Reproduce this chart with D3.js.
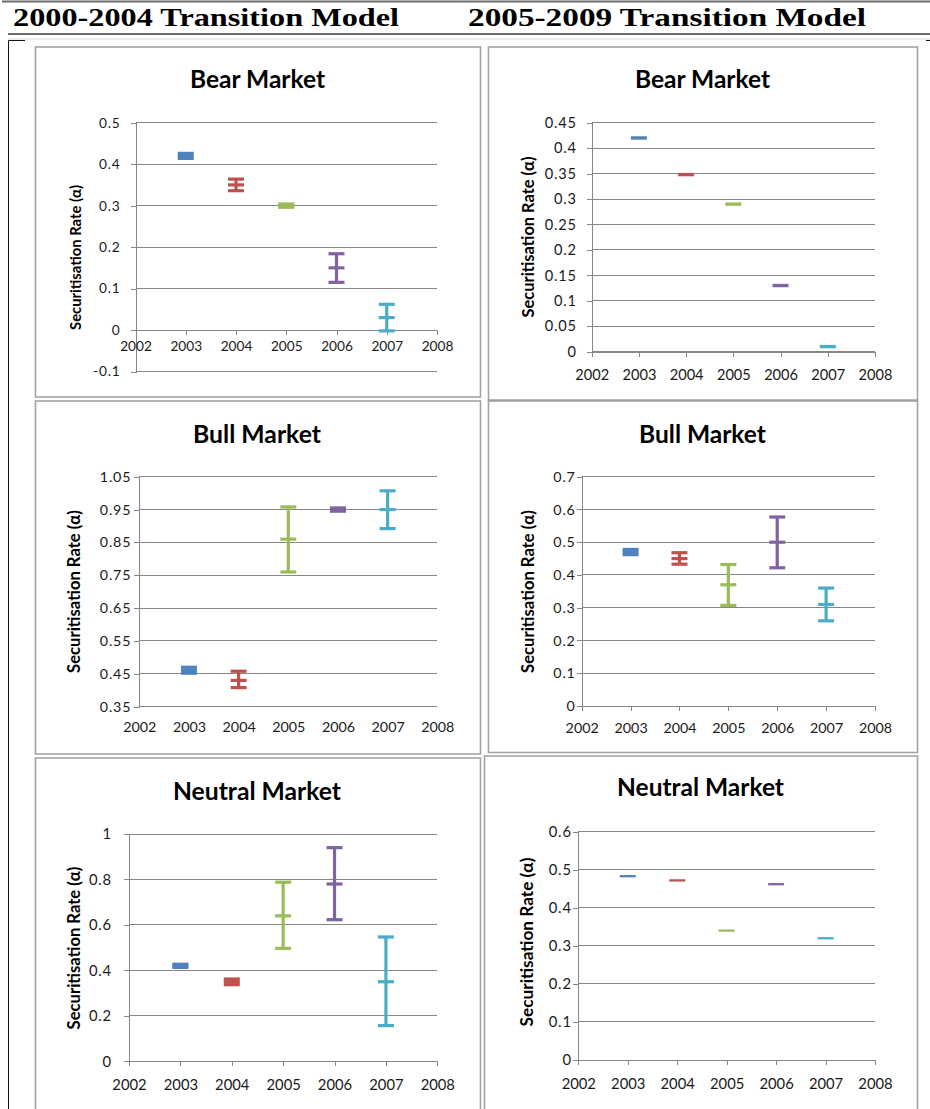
<!DOCTYPE html>
<html>
<head>
<meta charset="utf-8">
<script src="https://cdn.jsdelivr.net/npm/d3@7"></script>
<style>
  body { margin: 0; background: #fff; }
  svg { display: block; }
</style>
</head>
<body>
<svg id="fig" width="930" height="1109"></svg>
<script>
// ---- data -------------------------------------------------------------
const years = [2003, 2004, 2005, 2006, 2007];
const yearTicks = [2002, 2003, 2004, 2005, 2006, 2007, 2008];
const seriesColors = ["#4F81BD", "#C0504D", "#9BBB59", "#8064A2", "#4BACC6"];
const columnHeaders = ["2000-2004 Transition Model", "2005-2009 Transition Model"];
const yAxisTitle = "Securitisation Rate (\u03B1)";

// 2000-2004 transition model: mean securitisation rate with its range
const bearEarlyMean = [0.42, 0.35, 0.30, 0.15, 0.03];
const bearEarlyLow  = [0.414, 0.336, 0.296, 0.115, -0.002];
const bearEarlyHigh = [0.426, 0.364, 0.304, 0.184, 0.062];

const bullEarlyMean = [0.46, 0.43, 0.86, 0.95, 0.95];
const bullEarlyLow  = [0.452, 0.408, 0.760, 0.945, 0.892];
const bullEarlyHigh = [0.470, 0.458, 0.958, 0.955, 1.007];

const neutralEarlyMean = [0.42, 0.35, 0.64, 0.78, 0.35];
const neutralEarlyLow  = [0.413, 0.337, 0.497, 0.623, 0.157];
const neutralEarlyHigh = [0.427, 0.362, 0.788, 0.940, 0.547];

// 2005-2009 transition model
const bearLateMean = [0.42, 0.348, 0.29, 0.13, 0.01];

const bullLateMean = [0.47, 0.45, 0.37, 0.50, 0.31];
const bullLateLow  = [0.462, 0.433, 0.307, 0.422, 0.260];
const bullLateHigh = [0.478, 0.468, 0.432, 0.577, 0.360];

const neutralLateMean = [0.483, 0.472, 0.34, 0.462, 0.32];

// value-axis tick labels
const bearEarlyTicks    = [-0.1, 0, 0.1, 0.2, 0.3, 0.4, 0.5];
const bullEarlyTicks    = [0.35, 0.45, 0.55, 0.65, 0.75, 0.85, 0.95, 1.05];
const neutralEarlyTicks = [0, 0.2, 0.4, 0.6, 0.8, 1];
const bearLateTicks     = [0, 0.05, 0.1, 0.15, 0.2, 0.25, 0.3, 0.35, 0.4, 0.45];
const bullLateTicks     = [0, 0.1, 0.2, 0.3, 0.4, 0.5, 0.6, 0.7];
const neutralLateTicks  = [0, 0.1, 0.2, 0.3, 0.4, 0.5, 0.6];

// ---- layout -----------------------------------------------------------
// titleLen / yTitleLen: the width each title is fitted to
const panels = [
  { title: "Bear Market", mean: bearEarlyMean, low: bearEarlyLow, high: bearEarlyHigh, ticks: bearEarlyTicks,
    box: [35.5, 47, 445, 350], plot: [135.5, 437, 122.7, 371.5], titleX: 257.5, titleY: 87.5, titleLen: 135,
    yTitleX: 75, yTitleY: 257.5, yTitleLen: 145, tickSize: 13.7, tickGap: 15, xLabelY: 351.5, sw: 3.2 },
  { title: "Bear Market", mean: bearLateMean, ticks: bearLateTicks,
    box: [488.5, 47, 429, 353.5], plot: [591.7, 875, 122.7, 351.7], titleX: 702.5, titleY: 87.5, titleLen: 135,
    yTitleX: 527.3, yTitleY: 237, yTitleLen: 161, tickSize: 14.6, tickGap: 15, xLabelY: 380, sw: 3.4, bottomDark: true },
  { title: "Bull Market", mean: bullEarlyMean, low: bullEarlyLow, high: bullEarlyHigh, ticks: bullEarlyTicks,
    box: [35.5, 401, 445, 353], plot: [139.3, 437.3, 476.7, 706.7], titleX: 257, titleY: 442.5, titleLen: 128,
    yTitleX: 74.3, yTitleY: 591.5, yTitleLen: 163, tickSize: 14.3, tickGap: 8, xLabelY: 731.7, sw: 3.2 },
  { title: "Bull Market", mean: bullLateMean, low: bullLateLow, high: bullLateHigh, ticks: bullLateTicks,
    box: [488.5, 401, 429, 351.5], plot: [581.7, 875, 476.7, 706], titleX: 702.5, titleY: 442.5, titleLen: 127,
    yTitleX: 528.3, yTitleY: 591.5, yTitleLen: 163, tickSize: 14.3, tickGap: 6, xLabelY: 733, sw: 3.2 },
  { title: "Neutral Market", mean: neutralEarlyMean, low: neutralEarlyLow, high: neutralEarlyHigh, ticks: neutralEarlyTicks,
    box: [35.5, 758, 445, 360], plot: [129, 437.3, 834, 1061.3], titleX: 257, titleY: 799.5, titleLen: 168,
    yTitleX: 74.3, yTitleY: 948, yTitleLen: 163, tickSize: 14.8, tickGap: 17, xLabelY: 1090, sw: 3.2 },
  { title: "Neutral Market", mean: neutralLateMean, ticks: neutralLateTicks,
    box: [484.5, 756, 433, 360], plot: [578.3, 875, 831.7, 1060], titleX: 700.5, titleY: 795.5, titleLen: 167,
    yTitleX: 526.7, yTitleY: 942, yTitleLen: 169, tickSize: 14.8, tickGap: 6.5, xLabelY: 1089, sw: 2.3 }
];

const gridColor = "#868686";
const textColor = "#1a1a1a";
const sansFont = "Lato, 'Open Sans', sans-serif";
const serifFont = "'Liberation Serif', serif";
const capWidth = 16;

const svg = d3.select("#fig");

// scale a text element's font size so that it spans the given width
function fitWidth(sel, width) {
  const probe = 20;
  sel.attr("font-size", probe);
  const w = sel.node().getComputedTextLength();
  sel.attr("font-size", probe * width / w);
  return sel;
}

// ---- page furniture: header rules and column headings ------------------
svg.append("line").attr("x1", 2).attr("x2", 930).attr("y1", 1.5).attr("y2", 1.5)
  .attr("stroke", "#6a6a6a").attr("stroke-width", 2);
svg.append("line").attr("x1", 8).attr("x2", 930).attr("y1", 34).attr("y2", 34)
  .attr("stroke", "#6a6a6a").attr("stroke-width", 2);
svg.append("line").attr("x1", 8).attr("x2", 930).attr("y1", 39).attr("y2", 39)
  .attr("stroke", "#d9d9d9").attr("stroke-width", 1);
svg.append("path").attr("d", "M8.5,1109V40.5H25").attr("fill", "none")
  .attr("stroke", "#111").attr("stroke-width", 1);
svg.append("path").attr("d", "M926,40.5H930").attr("fill", "none")
  .attr("stroke", "#111").attr("stroke-width", 1);

const headerPos = [[13, 386], [468, 398]];
svg.selectAll("text.colhead").data(columnHeaders).join("text")
  .attr("class", "colhead")
  .attr("x", (d, i) => headerPos[i][0])
  .attr("y", 25.5)
  .attr("textLength", (d, i) => headerPos[i][1])
  .attr("lengthAdjust", "spacingAndGlyphs")
  .attr("font-family", serifFont)
  .attr("font-weight", "bold")
  .attr("font-size", 24.5)
  .attr("fill", "#000")
  .text(d => d);

// ---- one chart per panel ----------------------------------------------
const fmt = v => String(+v.toFixed(2));

panels.forEach(p => {
  const g = svg.append("g");
  const [bx, by, bw, bh] = p.box;
  const [left, right, top, bottom] = p.plot;

  g.append("rect").attr("x", bx).attr("y", by).attr("width", bw).attr("height", bh)
    .attr("fill", "#fff").attr("stroke", "#a3a3a3").attr("stroke-width", 1.6);
  if (p.bottomDark) {
    g.append("line").attr("x1", bx).attr("x2", bx + bw).attr("y1", by + bh).attr("y2", by + bh)
      .attr("stroke", "#8a8a8a").attr("stroke-width", 2.2);
  }

  const x = d3.scaleLinear().domain([2002, 2008]).range([left, right]);
  const y = d3.scaleLinear().domain(d3.extent(p.ticks)).range([bottom, top]);

  // horizontal gridlines
  g.append("g").selectAll("line").data(p.ticks).join("line")
    .attr("x1", left).attr("x2", right)
    .attr("y1", d => y(d)).attr("y2", d => y(d))
    .attr("stroke", gridColor).attr("stroke-width", 1).attr("shape-rendering", "crispEdges");

  // value axis with outside ticks
  const yAxis = d3.axisLeft(y).tickValues(p.ticks).tickFormat(fmt).tickSize(5).tickPadding(p.tickGap - 5);
  const ya = g.append("g").attr("transform", `translate(${left},0)`).call(yAxis);
  ya.select(".domain").attr("stroke", gridColor).attr("shape-rendering", "crispEdges");
  ya.selectAll(".tick line").attr("stroke", gridColor).attr("shape-rendering", "crispEdges");
  ya.selectAll(".tick text").attr("font-family", sansFont).attr("font-size", p.tickSize)
    .attr("letter-spacing", 0.8).attr("fill", textColor);

  // year axis crossing at zero
  const y0 = y(0);
  const xAxis = d3.axisBottom(x).tickValues(yearTicks).tickFormat(d3.format("d")).tickSize(5).tickSizeOuter(5);
  const xa = g.append("g").attr("transform", `translate(0,${y0})`).call(xAxis);
  xa.select(".domain").attr("stroke", gridColor).attr("shape-rendering", "crispEdges");
  xa.selectAll(".tick line").attr("stroke", gridColor).attr("shape-rendering", "crispEdges");
  xa.selectAll(".tick text").attr("font-family", sansFont).attr("font-size", p.tickSize)
    .attr("fill", textColor).attr("dy", null).attr("y", p.xLabelY - y0);

  // chart title
  const t = g.append("text").attr("x", p.titleX).attr("y", p.titleY).attr("text-anchor", "middle")
    .attr("font-family", sansFont).attr("font-weight", "bold")
    .attr("fill", "#000").text(p.title);
  fitWidth(t, p.titleLen);

  // value-axis title
  const yt = g.append("text")
    .attr("transform", `translate(${p.yTitleX},${p.yTitleY}) rotate(-90)`)
    .attr("text-anchor", "middle").attr("dominant-baseline", "central")
    .attr("font-family", sansFont).attr("font-weight", "bold")
    .attr("fill", "#000").text(yAxisTitle);
  fitWidth(yt, p.yTitleLen);

  // ranges (vertical bar with end caps) and mean markers
  const pts = years.map((yr, i) => ({
    yr, color: seriesColors[i], mean: p.mean[i],
    low: p.low ? p.low[i] : null, high: p.high ? p.high[i] : null
  }));
  const marks = g.append("g").attr("fill", "none").attr("stroke-width", p.sw);
  pts.forEach(d => {
    const cx = x(d.yr);
    if (d.low !== null) {
      marks.append("line").attr("x1", cx).attr("x2", cx).attr("y1", y(d.low)).attr("y2", y(d.high))
        .attr("stroke", d.color);
      [d.low, d.high].forEach(v => {
        marks.append("line").attr("x1", cx - capWidth / 2).attr("x2", cx + capWidth / 2)
          .attr("y1", y(v)).attr("y2", y(v)).attr("stroke", d.color);
      });
    }
    marks.append("line").attr("x1", cx - capWidth / 2).attr("x2", cx + capWidth / 2)
      .attr("y1", y(d.mean)).attr("y2", y(d.mean)).attr("stroke", d.color);
  });
});
</script>
</body>
</html>
